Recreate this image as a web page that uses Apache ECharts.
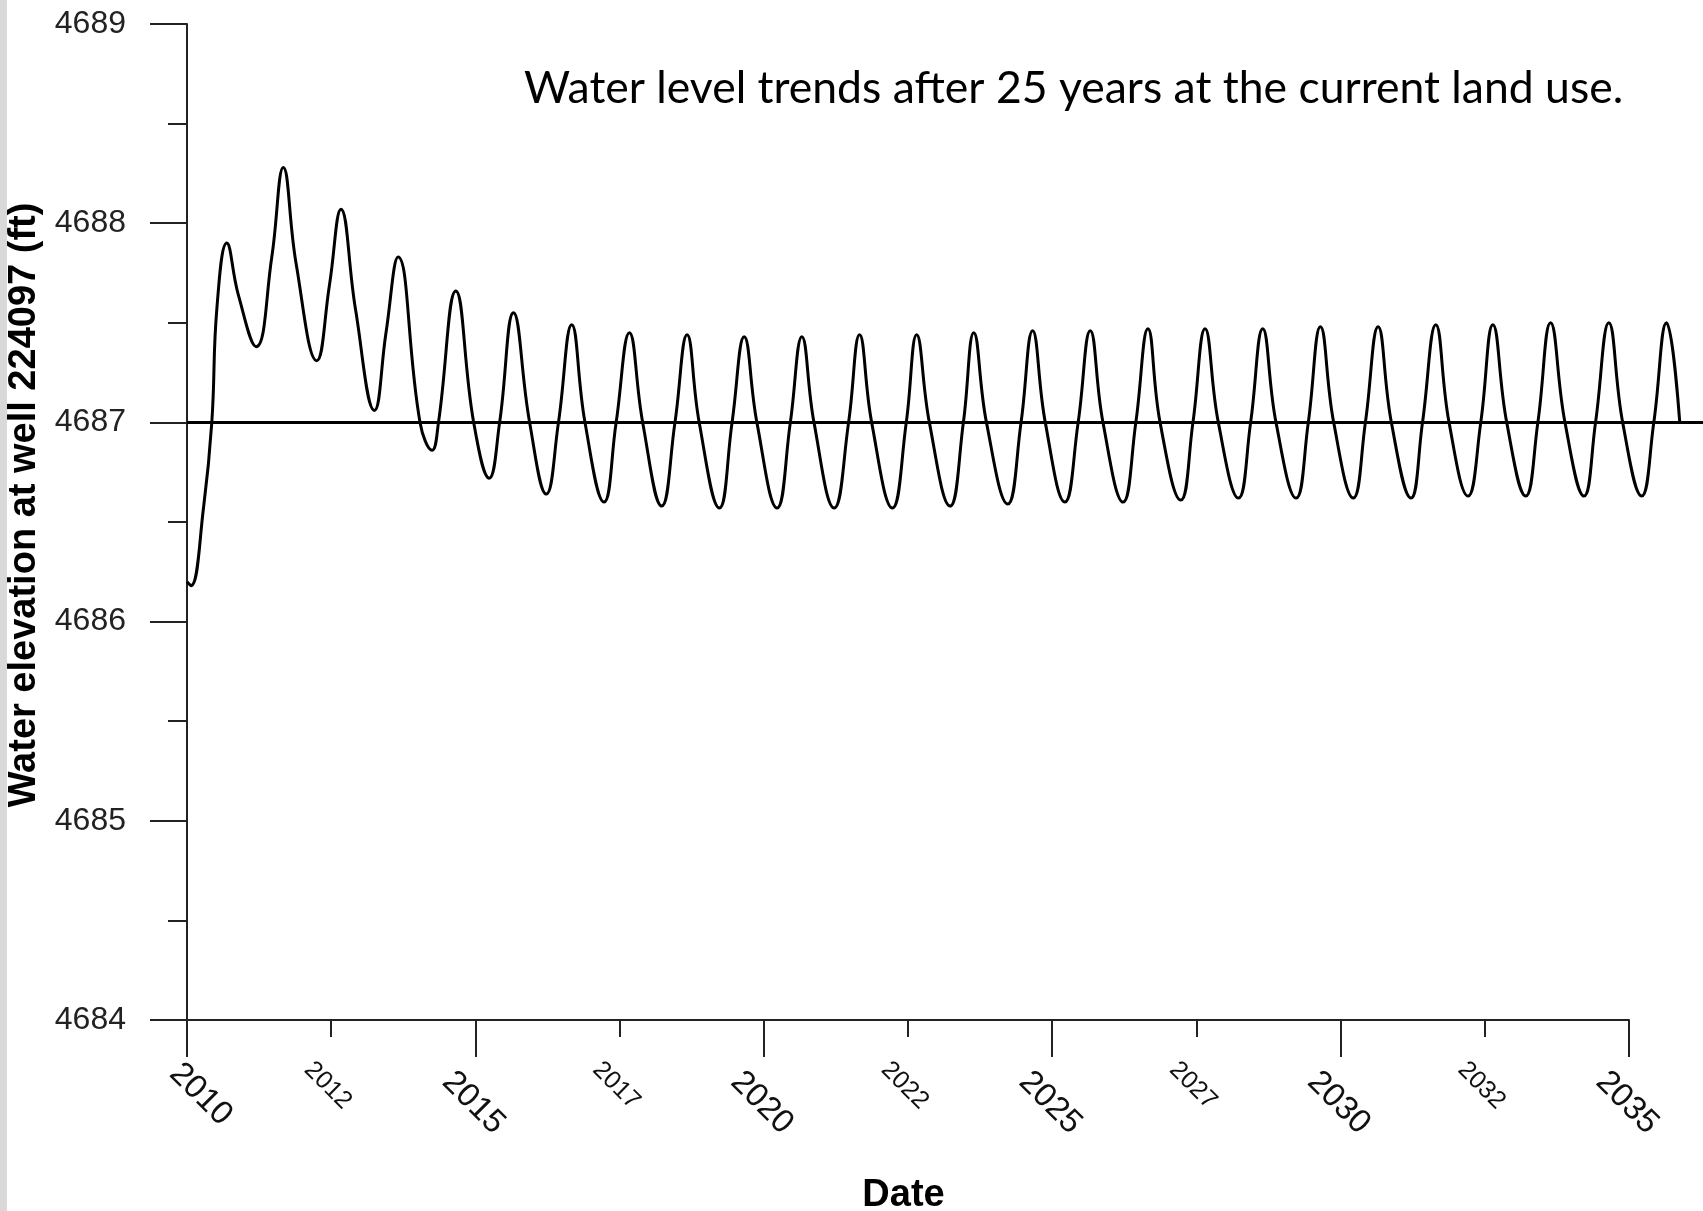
<!DOCTYPE html>
<html>
<head>
<meta charset="utf-8">
<title>Water level trends</title>
<script src="https://cdn.jsdelivr.net/npm/echarts@6/dist/echarts.min.js"></script>
<style>
  html, body { margin: 0; padding: 0; background: #fff; }
  #chart { width: 1703px; height: 1211px; }
</style>
</head>
<body>
<div id="chart"></div>
<script>
  /** data: decimal year and water elevation (ft) */
  var years = [
    2010.00, 2010.07, 2010.29, 2010.43, 2010.52, 2010.69, 2010.89,
    2011.20, 2011.47, 2011.67, 2011.89,
    2012.25, 2012.47, 2012.67, 2012.92,
    2013.25, 2013.45, 2013.66,
    2014.04, 2014.25, 2014.36, 2014.66, 2014.97,
    2015.24, 2015.42, 2015.66, 2015.94,
    2016.23, 2016.44, 2016.67, 2016.90,
    2017.23, 2017.44, 2017.67, 2017.90,
    2018.23, 2018.46, 2018.67, 2018.88,
    2019.23, 2019.45, 2019.66, 2019.88,
    2020.23, 2020.46, 2020.66, 2020.87,
    2021.22, 2021.47, 2021.66, 2021.87,
    2022.23, 2022.47, 2022.65, 2022.87,
    2023.23, 2023.46, 2023.64, 2023.86,
    2024.23, 2024.46, 2024.66, 2024.88,
    2025.22, 2025.45, 2025.66, 2025.88,
    2026.23, 2026.45, 2026.66, 2026.87,
    2027.23, 2027.44, 2027.65, 2027.88,
    2028.23, 2028.44, 2028.65, 2028.88,
    2029.23, 2029.44, 2029.65, 2029.88,
    2030.22, 2030.43, 2030.65, 2030.88,
    2031.22, 2031.42, 2031.65, 2031.88,
    2032.21, 2032.43, 2032.64, 2032.88,
    2033.21, 2033.42, 2033.64, 2033.89,
    2034.22, 2034.42, 2034.65, 2034.89,
    2035.22, 2035.43, 2035.65, 2035.88
  ];
  var levels = [
    4686.20, 4686.18, 4686.58, 4687.00, 4687.58, 4687.90, 4687.64,
    4687.38, 4687.83, 4688.28, 4687.80,
    4687.31, 4687.69, 4688.07, 4687.57,
    4687.06, 4687.45, 4687.83,
    4687.00, 4686.86, 4687.00, 4687.66, 4687.00,
    4686.72, 4687.00, 4687.55, 4687.00,
    4686.64, 4687.00, 4687.49, 4687.00,
    4686.60, 4687.00, 4687.45, 4687.00,
    4686.58, 4687.00, 4687.44, 4687.00,
    4686.57, 4687.00, 4687.43, 4687.00,
    4686.57, 4687.00, 4687.43, 4687.00,
    4686.57, 4687.00, 4687.44, 4687.00,
    4686.57, 4687.00, 4687.44, 4687.00,
    4686.58, 4687.00, 4687.45, 4687.00,
    4686.59, 4687.00, 4687.46, 4687.00,
    4686.60, 4687.00, 4687.46, 4687.00,
    4686.60, 4687.00, 4687.47, 4687.00,
    4686.61, 4687.00, 4687.47, 4687.00,
    4686.62, 4687.00, 4687.47, 4687.00,
    4686.62, 4687.00, 4687.48, 4687.00,
    4686.62, 4687.00, 4687.48, 4687.00,
    4686.62, 4687.00, 4687.49, 4687.00,
    4686.63, 4687.00, 4687.49, 4687.00,
    4686.63, 4687.00, 4687.50, 4687.00,
    4686.63, 4687.00, 4687.50, 4687.00,
    4686.63, 4687.00, 4687.50, 4687.00
  ];
  // horizontal line at the current level, runs off the right edge
  var refYears = [2010, 2036.4];
  var refLevel = [4687, 4687];

  var xRange = [2010, 2035];
  var yRange = [4684, 4689];

  var seriesData = years.map(function(y, i) { return [y, levels[i]]; });
  var refData = refYears.map(function(y, i) { return [y, refLevel[i]]; });

  // layout: the axes stop at 2035, the plotted lines run on to the right edge
  var chartWidth = 1703;
  var gridLeft = 187, gridRight = 74, gridTop = 24, gridBottom = 191;
  var pxPerYear = (chartWidth - gridLeft - gridRight) / (xRange[1] - xRange[0]);
  var overflowMax = xRange[0] + (chartWidth - gridLeft) / pxPerYear;

  var axisColor = '#222';
  var labelFont = 'Liberation Sans';

  function yearLabel(v) { return String(Math.floor(v)); }

  var option = {
    backgroundColor: '#fff',
    animation: false,
    title: {
      text: 'Water level trends after 25 years at the current land use.',
      left: 524,
      top: 66,
      padding: 0,
      textStyle: {
        fontFamily: 'Lato',
        fontSize: 44.5,
        fontWeight: 'normal',
        color: '#000'
      }
    },
    graphic: [{
      type: 'rect',
      left: 0,
      top: 0,
      shape: { width: 7, height: 1211 },
      style: { fill: '#d9d9d9' }
    }],
    grid: [{
      left: gridLeft,
      right: gridRight,
      top: gridTop,
      bottom: gridBottom,
      containLabel: false,
      outerBoundsMode: 'none'
    }, {
      left: gridLeft,
      right: 0,
      top: gridTop,
      bottom: gridBottom,
      containLabel: false,
      outerBoundsMode: 'none'
    }],
    xAxis: [{
      type: 'value',
      gridIndex: 0,
      position: 'bottom',
      min: xRange[0],
      max: xRange[1],
      interval: 5,
      name: 'Date',
      nameLocation: 'middle',
      nameGap: 157,
      nameTextStyle: {
        fontFamily: labelFont,
        fontSize: 38,
        fontWeight: 'bold',
        color: '#000',
        padding: [0, 9, 0, 0]
      },
      axisLine: { show: true, lineStyle: { color: axisColor, width: 2 } },
      axisTick: { show: true, length: 37, lineStyle: { color: axisColor, width: 2 } },
      minorTick: { show: true, splitNumber: 2, length: 17, lineStyle: { color: axisColor, width: 2 } },
      splitLine: { show: false },
      minorSplitLine: { show: false },
      axisLabel: {
        showMinLabel: false,
        rotate: -45,
        margin: 29,
        verticalAlign: 'top',
        padding: [23, 0, 0, 0],
        fontFamily: labelFont,
        fontSize: 33,
        color: '#111',
        formatter: yearLabel
      }
    }, {
      // second axis only carries the small labels between the major ticks
      type: 'value',
      gridIndex: 0,
      position: 'bottom',
      min: xRange[0],
      max: xRange[1],
      interval: 2.5,
      axisLine: { show: false },
      axisTick: { show: false },
      splitLine: { show: false },
      axisLabel: {
        rotate: -45,
        margin: 23,
        verticalAlign: 'top',
        padding: [20, 0, 0, 0],
        fontFamily: labelFont,
        fontSize: 25,
        color: '#111',
        formatter: function(v) {
          return (Math.abs(v % 5) < 1e-6) ? '' : yearLabel(v);
        }
      }
    }, {
      // first label sits a little to the right in the original
      type: 'value',
      gridIndex: 0,
      position: 'bottom',
      min: xRange[0],
      max: xRange[1],
      interval: 25,
      axisLine: { show: false },
      axisTick: { show: false },
      splitLine: { show: false },
      axisLabel: {
        showMaxLabel: false,
        rotate: -45,
        margin: 29,
        verticalAlign: 'top',
        padding: [6, 0, 0, 5],
        fontFamily: labelFont,
        fontSize: 33,
        color: '#111',
        formatter: yearLabel
      }
    }, {
      // hidden axis for the lines, same scale, reaching the right edge
      type: 'value',
      gridIndex: 1,
      show: false,
      min: xRange[0],
      max: overflowMax
    }],
    yAxis: [{
      type: 'value',
      gridIndex: 0,
      min: yRange[0],
      max: yRange[1],
      interval: 1,
      name: 'Water elevation at well 224097 (ft)',
      nameLocation: 'middle',
      nameRotate: 90,
      nameGap: 139,
      nameTextStyle: {
        fontFamily: labelFont,
        fontSize: 38,
        fontWeight: 'bold',
        color: '#000',
        padding: [0, 0, 0, 34]
      },
      axisLine: { show: true, lineStyle: { color: axisColor, width: 2 } },
      axisTick: { show: true, length: 37, lineStyle: { color: axisColor, width: 2 } },
      minorTick: { show: true, splitNumber: 2, length: 19, lineStyle: { color: axisColor, width: 2 } },
      splitLine: { show: false },
      minorSplitLine: { show: false },
      axisLabel: {
        margin: 61,
        fontFamily: labelFont,
        fontSize: 32,
        color: '#222',
        formatter: function(v) { return String(v); }
      }
    }, {
      type: 'value',
      gridIndex: 1,
      show: false,
      min: yRange[0],
      max: yRange[1]
    }],
    series: [{
      name: 'Current level',
      type: 'line',
      xAxisIndex: 3,
      yAxisIndex: 1,
      data: refData,
      symbol: 'none',
      silent: true,
      lineStyle: { color: '#000', width: 3 }
    }, {
      name: 'Water elevation',
      type: 'line',
      xAxisIndex: 3,
      yAxisIndex: 1,
      data: seriesData,
      smooth: 0.45,
      symbol: 'none',
      lineStyle: { color: '#000', width: 3 }
    }]
  };

  var chartInstance = echarts.init(document.getElementById('chart'));
  chartInstance.setOption(option);
</script>
</body>
</html>
